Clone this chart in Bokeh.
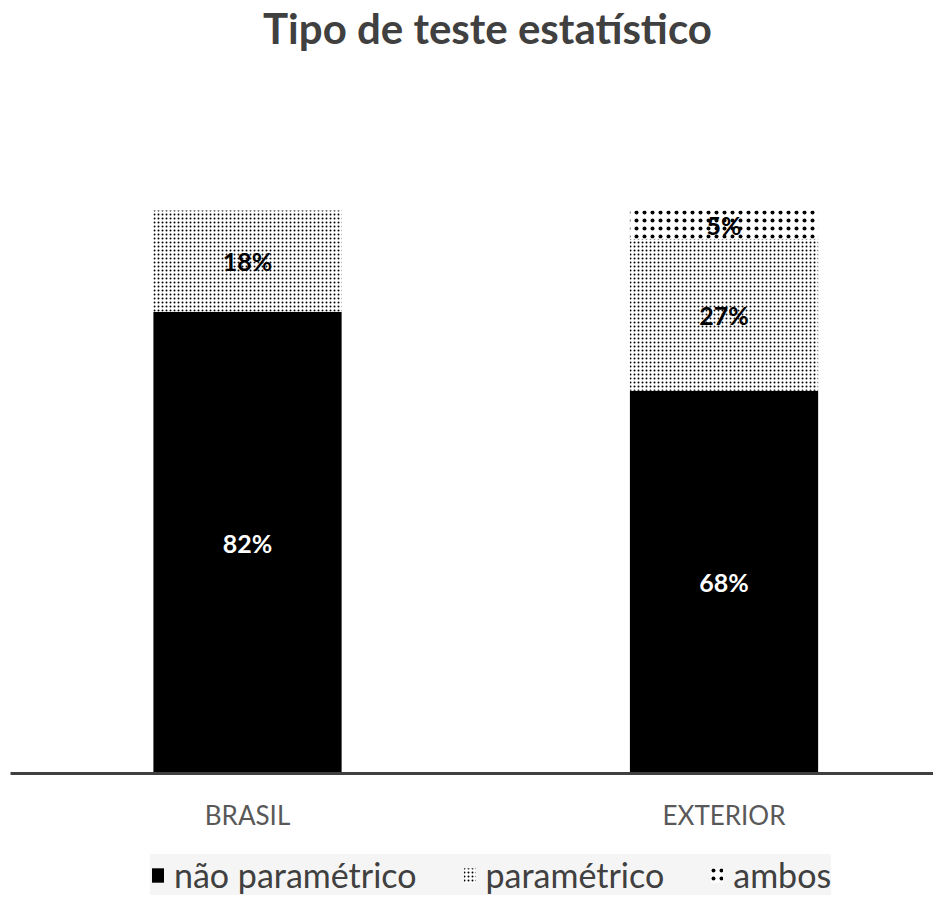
from bokeh.plotting import figure
from bokeh.models import Range1d, ColumnDataSource, Legend, LegendItem, LabelSet, Label, FixedTicker
from bokeh.layouts import column
from bokeh.core.properties import value
from bokeh.embed import file_html
from bokeh.resources import INLINE
import numpy as np

title_text = "Tipo de teste estatístico"
categories = ["BRASIL", "EXTERIOR"]
series_names = ["não paramétrico", "paramétrico", "ambos"]
nao_parametrico = [82, 68]
parametrico = [18, 27]
ambos = [0, 5]

vals = np.array([nao_parametrico, parametrico, ambos], dtype=float)
tops = np.cumsum(vals, axis=0)
bottoms = tops - vals
xpos = np.arange(len(categories))

FONT = "Lato"
W = 933

p = figure(x_range=Range1d(-0.4974, 1.4396), y_range=Range1d(0, 137.3),
           width=W, height=845, output_backend="svg", toolbar_location=None,
           min_border_left=10, min_border_right=0, min_border_top=0, min_border_bottom=72)

styles = [
    dict(fill_color="black", hatch_pattern=None, hatch_scale=4, hatch_weight=1),
    dict(fill_color="white", hatch_pattern="dot", hatch_scale=4, hatch_weight=3.2),
    dict(fill_color="white", hatch_pattern="dot", hatch_scale=8, hatch_weight=0.9),
]
label_colors = ["white", "black", "black"]

def bar_kwargs(st):
    kw = dict(fill_color=st["fill_color"], line_color=None)
    if st["hatch_pattern"]:
        kw.update(hatch_pattern=st["hatch_pattern"], hatch_scale=st["hatch_scale"],
                  hatch_weight=st["hatch_weight"], hatch_color="black")
    return kw

for i, name in enumerate(series_names):
    src = ColumnDataSource(dict(
        x=xpos, bottom=bottoms[i], top=tops[i],
        mid=(bottoms[i] + tops[i]) / 2,
        lbl=[f"{int(v)}%" if v > 0 else "" for v in vals[i]],
    ))
    p.vbar(x="x", bottom="bottom", top="top", width=0.395, source=src, **bar_kwargs(styles[i]))
    labels = LabelSet(x="x", y="mid", text="lbl", source=src, text_align="center",
                      text_baseline="middle", text_font=value(FONT), text_font_size=value("25px"),
                      text_font_style=value("bold"), text_color=value(label_colors[i]))
    p.add_layout(labels)

p.add_layout(Label(x=477, y=746, x_units="screen", y_units="screen", text=title_text,
                   text_align="center", text_baseline="alphabetic", text_font=FONT,
                   text_font_size="42px", text_font_style="bold", text_color="#404040"))

p.xgrid.visible = False
p.ygrid.visible = False
p.yaxis.visible = False
p.outline_line_color = None
p.xaxis.ticker = FixedTicker(ticks=list(xpos))
p.xaxis.major_label_overrides = {int(k): c for k, c in zip(xpos, categories)}
p.xaxis.axis_line_width = 3
p.xaxis.axis_line_color = "#404040"
p.xaxis.major_tick_line_color = None
p.xaxis.minor_tick_line_color = None
p.xaxis.major_label_standoff = 19
p.xaxis.major_label_text_font = FONT
p.xaxis.major_label_text_font_size = "26px"
p.xaxis.major_label_text_color = "#595959"

# legend holder figure (placeholder renderers carrying the series styles, no visible data)
p2 = figure(width=W, height=50, output_backend="svg", toolbar_location=None,
            x_range=Range1d(0, 1), y_range=Range1d(0, 1),
            min_border_left=0, min_border_right=0, min_border_top=0, min_border_bottom=0)
p2.axis.visible = False
p2.grid.visible = False
p2.outline_line_color = None
items = []
for i, name in enumerate(series_names):
    r = p2.vbar(x=[np.nan], top=[np.nan], width=0.1, **bar_kwargs(styles[i]))
    items.append(LegendItem(label=name, renderers=[r]))

legend = Legend(items=items, orientation="horizontal", location=(140, 0),
                background_fill_color="#f5f5f5", background_fill_alpha=1.0,
                border_line_color=None, label_text_font=FONT, label_text_font_size="34px",
                label_text_color="#404040", glyph_width=15, glyph_height=18,
                spacing=45, label_standoff=9, padding=3, margin=0)
p2.add_layout(legend)

open("out.html", "w").write(file_html(column(p, p2, spacing=0), INLINE))
